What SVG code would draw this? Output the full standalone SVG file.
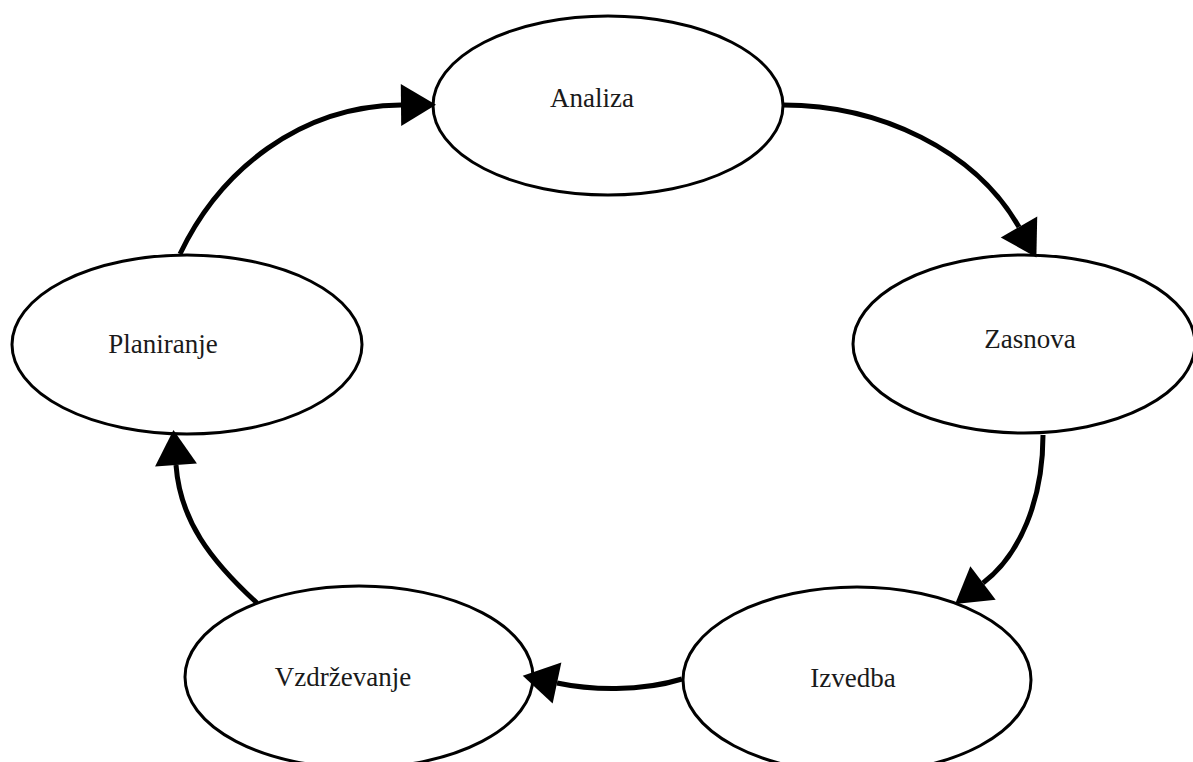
<svg xmlns="http://www.w3.org/2000/svg" width="1193" height="762" viewBox="0 0 1193 762">
  <style>
    .node { fill: #ffffff; stroke: #000000; stroke-width: 3; }
    .label { font-family: "Liberation Serif", "Times New Roman", serif; font-size: 27px; fill: #1a1a1a; text-anchor: middle; }
    .edge { fill: none; stroke: #000000; stroke-width: 5; marker-end: url(#arrow); }
  </style>
  <defs>
    <marker id="arrow" markerUnits="userSpaceOnUse" markerWidth="36" markerHeight="44" refX="0" refY="21" orient="auto" overflow="visible">
      <path d="M0,0 L35,21 L0,42 Z" fill="#000000"/>
    </marker>
  </defs>
  <rect width="1193" height="762" fill="#ffffff"/>

  <g id="node-analiza">
    <ellipse class="node" cx="608" cy="105.5" rx="175" ry="89.5"/>
    <text class="label" x="592" y="107">Analiza</text>
  </g>
  <g id="node-zasnova">
    <ellipse class="node" cx="1024" cy="344" rx="171" ry="89"/>
    <text class="label" x="1030" y="348">Zasnova</text>
  </g>
  <g id="node-izvedba">
    <ellipse class="node" cx="857" cy="680" rx="174" ry="93"/>
    <text class="label" x="853" y="687">Izvedba</text>
  </g>
  <g id="node-vzdrzevanje">
    <ellipse class="node" cx="359" cy="677" rx="174" ry="91"/>
    <text class="label" x="343" y="686">Vzdrževanje</text>
  </g>
  <g id="node-planiranje">
    <ellipse class="node" cx="187" cy="344.5" rx="175" ry="89.5"/>
    <text class="label" x="163" y="353">Planiranje</text>
  </g>

  <g id="connectors">
    <!-- Planiranje -> Analiza -->
    <path class="edge" d="M180,254 C220,170 300,106 401,105"/>
    <!-- Analiza -> Zasnova -->
    <path class="edge" d="M783,105 C880,105 975,150 1019,227"/>
    <!-- Zasnova -> Izvedba -->
    <path class="edge" d="M1043,435 C1043,500 1020,555 983,583"/>
    <!-- Izvedba -> Vzdrževanje -->
    <path class="edge" d="M682,679 C640,692 590,690 557,683"/>
    <!-- Vzdrževanje -> Planiranje -->
    <path class="edge" d="M257,603 C210,560 180,520 176,465"/>
  </g>
</svg>
